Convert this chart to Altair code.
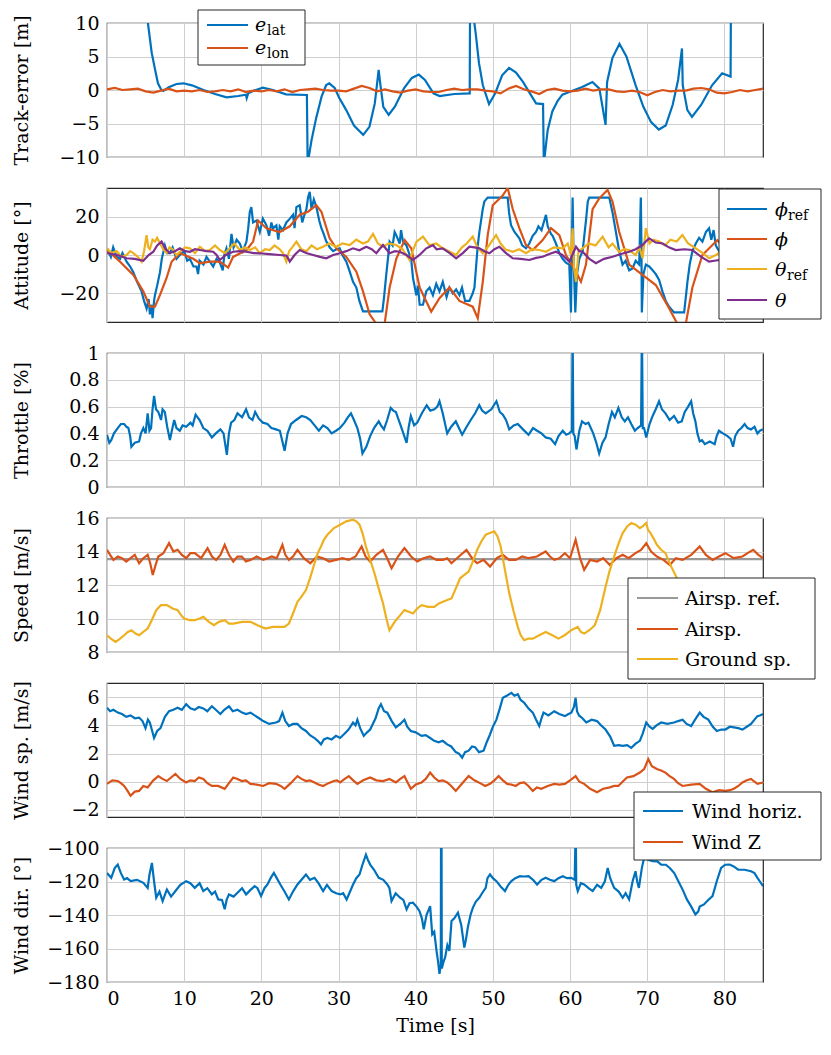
import altair as alt
import pandas as pd

FONT = "DejaVu Serif"
BLUE, ORANGE, YELLOW, PURPLE, GRAY = "#0072BD", "#D95319", "#EDB120", "#7E2F8E", "#999999"
W, H = 656, 134
FS = 19

# ---------------- data (t [s], value) ----------------
elat = [(0, 45), (2, 30), (4, 18), (5.3, 10), (5.8, 5.5), (6.2, 3.2), (6.6, 1.0), (7.0, 0.1), (7.3, -0.15), (8.0, 0.4),
        (9.0, 0.9), (9.9, 1.0), (11.0, 0.7), (12.5, 0.0), (14.0, -0.6), (15.5, -1.1), (17.0, -0.9), (18.0, -0.7), (18.1, -1.2), (18.3, -0.5),
        (19.0, -0.1), (20.2, 0.35), (21.5, 0.0), (23.2, -0.65), (25.9, -0.75), (26.0, -11), (26.5, -7.5), (27.1, -4.2), (27.8, -1.0), (28.4, 0.74),
        (28.8, 1.0), (29.5, 0.3), (30.1, -1.2), (31.0, -3.0), (32.0, -5.3), (33.2, -6.7), (34.0, -5.5), (34.7, -2.0), (35.2, 3.0), (35.4, 1.0),
        (35.8, -2.5), (36.5, -3.7), (37.3, -2.5), (38.5, 0.3), (39.5, 1.8), (40.4, 2.3), (41.2, 1.5), (42.3, -0.5), (43.1, -0.9), (45.0, -0.6),
        (47.0, -0.5), (47.05, 15), (47.5, 12), (47.6, 10), (47.8, 8.2), (48.2, 4.0), (48.7, 0.7), (49.5, -2.1), (50.3, -0.5), (51.2, 2.2),
        (52.1, 3.3), (53.0, 2.6), (53.9, 1.2), (54.8, -0.5), (55.6, -2.0), (56.5, -2.1), (56.6, -11), (57.1, -6), (57.7, -3.2), (58.4, -1.6),
        (59.0, -0.7), (60.3, -0.1), (61.5, 0.4), (62.9, 1.2), (63.8, 0.2), (64.6, -5.2), (64.8, 1.2), (65.5, 4.8), (66.4, 6.9), (67.3, 5.0),
        (68.5, 0.7), (69.5, -2.5), (70.5, -4.8), (71.5, -5.9), (72.4, -5.3), (73.3, -2.2), (74.0, 1.5), (74.5, 6.2), (74.6, 0.7), (75.2, -3.0),
        (75.8, -4.0), (77.0, -2.2), (78.4, 0.7), (79.7, 2.5), (80.8, 2.0), (80.85, 15), (85, 15)]

elon_t = list(range(86))
elon_v = [0.1, 0.3, 0.0, 0.1, 0.2, -0.2, -0.4, -0.1, 0.2, -0.2,
          -0.1, -0.2, 0.0, -0.3, -0.2, 0.0, -0.2, 0.1, -0.3, -0.1,
          -0.2, 0.0, -0.2, 0.1, -0.3, 0.0, 0.1, 0.2, 0.0, -0.1,
          -0.1, -0.2, 0.2, 0.6, 0.3, -0.2, 0.1, -0.2, -0.4, -0.1,
          0.1, -0.2, -0.3, -0.3, 0.0, 0.2, 0.0, 0.1, 0.1, -0.1,
          -0.2, -0.5, 0.2, 0.6, 0.1, -0.2, -0.6, 0.0, 0.2, -0.1,
          -0.2, -0.1, 0.2, -0.1, 0.1, 0.1, -0.2, -0.3, -0.1, -0.3,
          -0.8, -0.3, 0.0, -0.2, -0.1, -0.1, 0.2, 0.3, 0.1, -0.4,
          -0.5, -0.3, 0.0, -0.2, 0.0, 0.2]

phi_ref = [(0, 3.5), (0.5, -1), (0.8, 4), (1.25, -1), (1.7, -2), (2.0, 1), (2.54, -3.5), (3.0, -6), (3.41, -9), (3.9, -14),
           (4.48, -19), (4.8, -24), (5.13, -28), (5.4, -23), (5.56, -31), (5.78, -26), (5.9, -33), (6.1, -24), (6.21, -21), (6.5, -16),
           (6.86, -9), (7.1, -2), (7.5, 5), (7.8, 1), (8.15, 1), (8.5, 4), (9.0, -2), (9.44, 0), (10.0, 2), (10.4, -3),
           (10.74, -2), (11.2, -6), (11.6, -6), (11.8, -10), (12.0, -3), (12.5, -5), (12.89, -1), (13.32, -3.5), (13.76, -6), (14.2, -2),
           (14.62, -4), (15.0, -8), (15.2, 0), (15.48, 3.5), (15.8, -2), (16.13, 11), (16.4, 4), (16.8, 8), (17.21, 6), (17.6, 2),
           (18.07, 7), (18.3, 14), (18.5, 22.5), (18.7, 25), (18.93, 17), (19.36, 18), (19.8, 12), (20.2, 19), (20.66, 15.5), (21.0, 10),
           (21.3, 17), (21.52, 14), (21.95, 15.5), (22.2, 8), (22.38, 15), (22.8, 13), (23.24, 17), (23.7, 19), (24.11, 21), (24.3, 14),
           (24.54, 25), (24.97, 26), (25.3, 17), (25.5, 20), (25.84, 24), (26.05, 30), (26.27, 33), (26.5, 24), (26.8, 29), (27.13, 25),
           (27.5, 18), (27.78, 14), (27.99, 12), (28.42, 7), (28.85, 4), (29.3, 2), (29.72, 3), (30.15, 3.5), (30.5, 0), (31.01, -3.5),
           (31.4, -8), (31.88, -14), (32.31, -17), (32.7, -24), (33.17, -29.5), (34.47, -29.5), (35.68, -29.5), (35.9, -22), (36.19, -10), (36.4, -2),
           (36.62, 7), (37.0, 5), (37.27, 12), (37.48, 10.4), (37.92, 6), (38.1, 13), (38.35, 7), (38.8, 5), (39.21, 0), (39.43, -3),
           (39.65, -12), (40.08, -21), (40.3, -16), (40.51, -26), (40.94, -26), (41.37, -19), (41.8, -17), (42.23, -21), (42.66, -15), (43.08, -19),
           (43.51, -14), (44.0, -22), (44.37, -17), (44.8, -20), (45.24, -18), (45.67, -21), (46.0, -17), (46.4, -24), (46.96, -24), (47.39, -20),
           (47.61, -17), (48.04, 5), (48.25, 12), (48.69, 24), (48.9, 28), (49.33, 30), (51.92, 30), (52.1, 22), (52.35, 15.6), (52.8, 12),
           (53.43, 8.7), (53.8, 5), (54.29, 3.5), (54.72, 6), (55.16, 10), (55.59, 12), (55.9, 15), (56.3, 13), (56.88, 21), (57.1, 15),
           (57.53, 11), (57.74, 10), (58.17, 6), (58.61, 1), (59.04, -2), (59.47, -4), (59.9, -5), (60.12, -30), (60.2, -5), (60.33, 30),
           (60.45, 0), (60.68, -30), (60.9, -10), (61.2, -2), (61.63, 2), (62.06, 18), (62.3, 28), (62.49, 30), (65.08, 30), (65.51, 22),
           (65.94, 12), (66.37, 2), (66.8, -5), (67.2, -3), (67.66, -8), (68.09, -7), (68.5, -3), (68.96, -5), (69.17, 30), (69.25, 5),
           (69.3, -30), (69.5, -10), (69.82, -5), (70.25, -6), (70.7, -8), (71.11, -10), (71.54, -13), (71.97, -19), (72.4, -24), (72.83, -27),
           (73.48, -30), (74.78, -30), (75.0, -22), (75.21, -14), (75.5, -5), (75.85, 2), (76.29, 6), (76.72, 9), (77.15, 7), (77.6, 12),
           (78.01, 14), (78.3, 8), (78.6, 13), (78.88, 5), (79.31, 2), (79.74, 2), (80.5, 4), (82, 6), (83.5, 3), (85, 2)]

phi = [(0, 2.6), (1.69, -3.5), (3.41, -10.4), (4.7, -19), (5.56, -27), (6.21, -27), (6.86, -21), (7.72, -12), (8.37, -3.5), (9.44, 1),
       (11.17, -2), (12.03, -4.3), (13.32, -3.5), (14.62, -3.5), (15.7, -6.6), (16.34, -1), (18.07, 2.6), (18.93, 7), (19.58, 18), (20.66, 14),
       (22.38, 12), (23.68, 15), (24.97, 21), (26.05, 22.6), (27.13, 26), (27.78, 22.6), (28.85, 8.7), (29.72, 3.5), (31.01, -1), (32.31, -8.7),
       (33.17, -19), (34.03, -31), (34.9, -36), (35.97, -36), (36.62, -17), (37.48, -2), (38.57, 7.8), (39.43, 3.5), (40.51, -17), (42.01, -29.6),
       (43.08, -22.6), (44.37, -17), (45.67, -24), (47.39, -27), (48.04, -33), (48.69, -14), (49.33, 10.4), (49.98, 26), (51.27, 31), (51.92, 35),
       (52.57, 24), (53.43, 14), (54.29, 5.2), (55.16, 2.6), (56.45, 7.8), (57.53, 14), (58.61, 10.4), (59.47, 0), (60.77, -8.7), (61.41, -14),
       (62.06, -5), (62.92, 24), (63.78, 29.6), (64.86, 34), (65.51, 27.8), (66.37, 12), (67.66, -5), (69.39, -10.4), (71.11, -15.7), (72.83, -27.8),
       (73.91, -36), (74.99, -36), (75.85, -17), (77.15, 0), (78.45, 5.2), (79.09, 7.8), (79.74, 4.3), (81, 3), (83, 2), (85, 1)]

theta_ref = [(0, 3.5), (0.6, 1), (1.25, 2), (1.9, -1), (2.54, 0), (3.0, 2), (3.41, 1), (4.0, -1), (4.48, -3.5), (4.8, 2),
             (5.13, 10.4), (5.35, 4), (5.56, 3), (5.9, 8), (6.21, 7), (6.5, 9), (6.86, 6), (7.3, 3), (7.72, 1), (8.1, 4),
             (8.5, 3), (9.0, 0), (9.44, 1.7), (10.1, 4), (10.74, 3.5), (11.4, 1), (12.03, 4.3), (12.7, 2), (13.32, 2.6), (14.0, 5),
             (14.62, 2.6), (15.3, 1), (15.91, 3.5), (16.5, 6), (17.21, 2.6), (17.9, 4), (18.5, 2.6), (19.2, 4), (19.79, 1), (20.5, 3),
             (21.1, 2.6), (21.7, 5), (22.38, 3), (22.8, 1), (23.24, -3.5), (23.6, 2), (24.0, 4), (24.54, 7), (25.2, 3), (25.84, 2),
             (26.5, 5), (27.2, 3), (27.99, 4.3), (28.8, 6), (29.72, 4.3), (30.5, 6), (31.45, 5.2), (32.3, 8), (33.17, 6), (33.8, 7),
             (34.47, 11), (35.1, 6), (35.76, 4.3), (36.5, 6), (37.48, 5.2), (38.3, 3), (39.21, -2.6), (39.6, 2), (40.1, 7), (40.94, 9.6),
             (41.8, 5), (42.66, 6), (43.51, 3.5), (44.3, 2), (45.24, 0), (46.0, 4), (46.6, 6), (47.39, 9.6), (48.0, 4), (48.69, 0.9),
             (49.5, 5), (50.41, 10.4), (51.0, 6), (51.6, 3), (52.57, 1.7), (53.4, 3), (54.29, 0.9), (55.1, 3), (56.02, 2.6), (56.88, 1.7),
             (57.9, 4), (59.04, 3.5), (59.7, 6), (60.1, 0), (60.33, 14), (60.5, -6), (60.77, -14), (61.1, 2), (61.63, 3.5), (62.4, 6),
             (63.3, 5), (64.22, 9.6), (65.0, 4), (65.5, 6), (66.37, 1.7), (67.0, 3), (67.66, 2.6), (68.5, 0), (69.0, 4), (69.39, -1.7),
             (69.6, 5), (69.82, 14), (70.3, 6), (70.8, 8), (71.54, 7), (72.3, 5), (73.0, 8), (73.8, 7), (74.56, 10.4), (75.3, 6),
             (76.29, 3.5), (77.2, 1), (78.01, -1.7), (78.9, 0), (79.74, 2.6), (81, 2), (83, 3), (85, 2)]

theta = [(0, 1), (1.3, 0), (2.54, -1.7), (3.6, -2), (4.7, -3), (5.4, 0), (6.0, 1.7), (6.5, 5), (7.07, 7), (7.6, 3),
         (8.15, 1), (8.8, 2), (9.44, 3.5), (10.1, 2), (10.74, 1.7), (11.4, 3), (12.03, 2.6), (12.9, 2), (13.76, 1.7), (14.2, 0),
         (14.62, -2.6), (15.4, 0), (16.34, 1.7), (17.2, 2), (18.07, 1.7), (19.0, 1), (19.79, 0.9), (21.0, 0.5), (22.38, 0), (23.24, -0.3),
         (23.5, -2), (23.68, -3.5), (24.3, 0), (24.97, 2.6), (25.8, 1), (26.7, 0), (27.6, -1), (28.42, -1.7), (29.3, 0), (30.15, 0.9),
         (31.0, 2), (31.88, 3.5), (32.7, 2.5), (33.6, 4.3), (34.3, 3), (34.9, 0.9), (35.3, 3), (35.76, 5.2), (36.2, 3), (36.62, 0.9),
         (37.3, 2), (37.92, 1.7), (38.8, 0), (39.65, -2.6), (40.5, 0), (41.37, 3.5), (41.8, 4.3), (42.23, 5.2), (42.7, 3), (43.5, 3.5),
         (44.4, 1), (45.24, -1.7), (46.1, 1), (46.96, 4.3), (47.6, 4), (48.25, 3.5), (48.9, 2), (49.55, 0.9), (50.2, 3), (50.84, 4.3),
         (51.7, 1), (52.57, -1.7), (53.6, -2), (54.72, -2.6), (55.6, -1.5), (56.45, -0.9), (57.3, 0.5), (58.17, 1.7), (59.0, 0), (59.9, -3.5),
         (60.3, 0), (60.77, 4.3), (61.2, 2), (61.63, 1.7), (62.5, -2), (63.35, -4.3), (64.4, -2), (65.51, -0.9), (66.6, 0.5), (67.66, 1.7),
         (68.5, 3), (69.39, 5.2), (69.8, 7), (70.25, 8.7), (71.1, 6.5), (72.0, 6), (72.8, 4), (73.7, 2.6), (74.8, 3), (75.85, 2.6),
         (77.0, -1), (78.01, -3.5), (78.7, -3), (79.31, -2.6), (79.74, -0.9), (81, 1), (83, 0), (85, 1)]

throttle = [(0, 0.39), (0.3, 0.33), (0.55, 0.35), (0.9, 0.40), (1.39, 0.44), (1.8, 0.47), (2.22, 0.47), (2.5, 0.45), (2.77, 0.44), (3.0, 0.38),
            (3.16, 0.30), (3.6, 0.33), (4.16, 0.34), (4.4, 0.40), (4.71, 0.44), (5.0, 0.40), (5.27, 0.55), (5.5, 0.42), (5.71, 0.44), (5.9, 0.58),
            (6.1, 0.68), (6.35, 0.58), (6.65, 0.56), (7.0, 0.50), (7.2, 0.58), (7.49, 0.56), (7.8, 0.45), (8.15, 0.35), (8.4, 0.42), (8.71, 0.50),
            (9.0, 0.44), (9.43, 0.42), (9.8, 0.46), (10.26, 0.45), (10.81, 0.48), (11.1, 0.46), (11.48, 0.54), (12.0, 0.50), (12.48, 0.44), (13.0, 0.42),
            (13.59, 0.37), (14.1, 0.40), (14.69, 0.43), (15.1, 0.40), (15.53, 0.24), (15.8, 0.40), (16.08, 0.48), (16.5, 0.50), (16.91, 0.55), (17.5, 0.52),
            (18.02, 0.58), (18.4, 0.52), (18.85, 0.50), (19.2, 0.56), (19.68, 0.51), (20.2, 0.48), (20.79, 0.47), (21.3, 0.44), (21.9, 0.43), (22.4, 0.42),
            (23.01, 0.27), (23.4, 0.40), (23.84, 0.47), (24.5, 0.50), (25.23, 0.53), (25.8, 0.52), (26.34, 0.50), (26.9, 0.46), (27.45, 0.42), (28.0, 0.46),
            (28.56, 0.44), (29.1, 0.40), (29.67, 0.42), (30.2, 0.44), (30.77, 0.48), (31.2, 0.52), (31.61, 0.55), (32.0, 0.50), (32.44, 0.44), (32.8, 0.36),
            (33.1, 0.25), (33.6, 0.30), (34.1, 0.38), (34.6, 0.44), (35.21, 0.49), (35.5, 0.46), (35.88, 0.43), (36.3, 0.50), (36.76, 0.59), (37.1, 0.57),
            (37.43, 0.56), (38.1, 0.45), (38.82, 0.33), (39.1, 0.45), (39.37, 0.53), (39.8, 0.46), (40.2, 0.48), (40.8, 0.55), (41.42, 0.61), (41.9, 0.57),
            (42.42, 0.58), (42.8, 0.60), (43.08, 0.64), (43.5, 0.55), (44.08, 0.40), (44.6, 0.45), (45.19, 0.49), (45.6, 0.44), (46.02, 0.39), (46.6, 0.45),
            (47.13, 0.50), (47.7, 0.55), (48.24, 0.61), (48.6, 0.57), (49.07, 0.55), (49.8, 0.58), (50.46, 0.64), (50.9, 0.56), (51.29, 0.54), (51.7, 0.50),
            (52.12, 0.43), (52.7, 0.46), (53.23, 0.47), (53.9, 0.43), (54.62, 0.39), (55.2, 0.44), (55.73, 0.42), (56.3, 0.40), (56.84, 0.37), (57.5, 0.36),
            (58.06, 0.32), (58.5, 0.38), (59.05, 0.42), (59.5, 0.39), (59.89, 0.40), (60.25, 0.42), (60.33, 1.2), (60.42, 0.40), (60.6, 0.38), (60.83, 0.28),
            (61.2, 0.42), (61.55, 0.49), (62.0, 0.47), (62.38, 0.48), (63.0, 0.40), (63.4, 0.33), (63.77, 0.25), (64.2, 0.33), (64.6, 0.37), (65.0, 0.47),
            (65.43, 0.56), (65.8, 0.52), (66.26, 0.59), (66.7, 0.52), (67.09, 0.49), (67.5, 0.52), (67.93, 0.47), (68.4, 0.42), (68.76, 0.44), (69.2, 0.46),
            (69.31, 1.2), (69.42, 0.44), (69.59, 0.44), (69.87, 0.37), (70.3, 0.47), (70.7, 0.53), (71.1, 0.58), (71.53, 0.64), (71.9, 0.58), (72.36, 0.55),
            (72.9, 0.50), (73.47, 0.53), (74.0, 0.48), (74.47, 0.49), (74.86, 0.56), (75.3, 0.60), (75.69, 0.64), (75.95, 0.55), (76.24, 0.49), (76.5, 0.40),
            (76.8, 0.34), (77.1, 0.35), (77.46, 0.32), (78.1, 0.34), (78.74, 0.32), (79.0, 0.38), (79.29, 0.42), (79.8, 0.40), (80.4, 0.38), (80.8, 0.36),
            (81.12, 0.30), (81.4, 0.38), (81.79, 0.42), (82.2, 0.44), (82.62, 0.47), (83.0, 0.44), (83.45, 0.43), (83.9, 0.45), (84.28, 0.40), (84.6, 0.42),
            (85, 0.43)]

airsp_ref = [(0, 13.55), (85, 13.55)]

airsp = [(0, 14.1), (0.4, 13.8), (0.83, 13.5), (1.4, 13.7), (1.94, 13.6), (2.5, 13.4), (3.05, 13.6), (3.6, 13.8), (4.16, 13.3), (4.7, 13.6),
         (5.27, 13.8), (5.6, 13.3), (5.93, 12.6), (6.3, 13.2), (6.65, 13.7), (7.3, 13.9), (8.04, 14.5), (8.6, 14.0), (9.15, 14.1), (9.7, 13.8),
         (10.26, 13.6), (10.8, 13.9), (11.37, 13.9), (12.2, 13.6), (13.03, 14.2), (13.6, 13.7), (14.14, 13.5), (14.7, 13.8), (15.25, 14.4), (15.8, 13.8),
         (16.36, 13.4), (16.9, 13.7), (17.47, 13.7), (18.0, 13.4), (18.58, 13.5), (19.4, 13.7), (20.24, 13.5), (20.8, 13.6), (21.35, 13.7), (22.0, 13.6),
         (22.73, 14.4), (23.1, 13.8), (23.57, 13.5), (24.1, 13.7), (24.68, 14.1), (25.5, 13.6), (26.34, 13.3), (27.2, 13.7), (28.0, 13.6), (28.8, 13.4),
         (29.67, 13.5), (30.5, 13.6), (31.33, 13.5), (32.2, 13.7), (32.99, 14.3), (33.5, 13.7), (34.1, 13.4), (34.9, 13.8), (35.76, 14.1), (36.3, 13.6),
         (36.87, 13.0), (37.7, 13.7), (38.54, 14.2), (39.4, 13.7), (40.2, 13.4), (41.0, 13.6), (41.86, 13.7), (42.7, 13.5), (43.53, 13.5), (44.1, 13.6),
         (44.63, 13.3), (45.6, 13.7), (46.58, 14.1), (47.3, 13.6), (47.96, 13.3), (48.8, 13.5), (49.63, 13.1), (50.5, 13.6), (51.29, 13.8), (52.1, 13.5),
         (52.95, 13.5), (53.8, 13.7), (54.62, 13.6), (55.7, 13.7), (56.84, 14.0), (57.4, 13.7), (57.95, 13.5), (58.6, 13.6), (59.33, 13.9), (60.0, 13.6),
         (60.72, 14.7), (61.3, 13.6), (61.83, 12.9), (62.6, 13.5), (63.49, 13.4), (64.3, 13.6), (65.15, 13.2), (66.0, 13.6), (66.82, 13.8), (67.6, 13.6),
         (68.48, 13.9), (69.2, 14.1), (69.87, 14.5), (70.5, 14.0), (71.25, 13.7), (72.1, 13.5), (72.92, 13.2), (73.7, 13.6), (74.58, 13.5), (75.7, 13.8),
         (76.8, 14.3), (77.6, 13.8), (78.46, 13.5), (79.3, 13.7), (80.12, 13.9), (81.2, 13.6), (82.34, 13.7), (83.0, 13.9), (83.73, 14.1), (84.4, 13.8),
         (85, 13.6)]

ground = [(0, 9.0), (0.5, 8.8), (1.11, 8.6), (1.7, 8.8), (2.22, 9.0), (2.7, 9.2), (3.16, 9.3), (3.7, 9.1), (4.16, 9.0), (4.7, 9.2),
          (5.27, 9.4), (5.8, 9.9), (6.38, 10.5), (7.0, 10.8), (7.76, 10.8), (8.5, 10.6), (9.15, 10.5), (9.6, 10.2), (9.98, 10.0), (10.7, 9.9),
          (11.37, 9.9), (12.0, 10.0), (12.48, 10.1), (13.2, 9.8), (13.86, 9.6), (14.5, 9.8), (15.25, 9.9), (15.8, 9.7), (16.36, 9.7), (17.5, 9.8),
          (18.58, 9.8), (19.5, 9.6), (20.52, 9.4), (21.5, 9.5), (22.46, 9.5), (23.0, 9.5), (23.57, 9.7), (24.1, 10.3), (24.68, 11.0), (25.2, 11.3),
          (25.78, 11.7), (26.3, 12.4), (26.89, 13.3), (27.3, 13.9), (27.73, 14.3), (28.1, 14.7), (28.56, 15.0), (29.4, 15.4), (30.22, 15.6), (31.0, 15.8),
          (31.88, 15.9), (32.3, 15.8), (32.72, 15.6), (33.1, 15.1), (33.55, 14.3), (34.1, 13.5), (34.66, 12.7), (35.2, 11.8), (35.77, 10.9), (36.2, 10.0),
          (36.6, 9.3), (37.0, 9.6), (37.43, 9.9), (38.0, 10.2), (38.54, 10.5), (39.1, 10.4), (39.65, 10.3), (40.2, 10.6), (40.76, 10.8), (41.6, 10.7),
          (42.42, 10.7), (43.0, 10.9), (43.53, 11.0), (44.1, 11.1), (44.64, 11.2), (45.2, 11.8), (45.75, 12.4), (46.3, 12.6), (46.86, 12.8), (47.4, 13.4),
          (47.96, 14.1), (48.5, 14.6), (49.07, 15.0), (49.6, 15.1), (50.18, 15.2), (50.6, 14.9), (51.01, 14.3), (51.6, 12.8), (52.12, 11.5), (52.7, 10.4),
          (53.23, 9.5), (53.6, 9.0), (54.06, 8.7), (54.6, 8.8), (55.17, 8.8), (56.0, 9.0), (56.84, 9.2), (57.7, 9.0), (58.5, 8.8), (59.3, 9.0),
          (60.16, 9.3), (60.99, 9.5), (61.4, 9.2), (61.83, 9.1), (62.5, 9.3), (63.21, 9.6), (63.9, 10.5), (64.6, 11.9), (65.1, 12.8), (65.71, 13.7),
          (66.3, 14.5), (66.82, 15.1), (67.4, 15.5), (67.93, 15.7), (68.5, 15.6), (69.04, 15.4), (69.4, 15.5), (69.87, 15.7), (70.1, 15.3), (70.42, 15.1),
          (70.8, 14.8), (71.25, 14.4), (71.8, 14.1), (72.36, 13.9), (73.0, 13.2), (73.75, 12.5), (74.5, 11.8), (75.5, 11.2), (77, 10.6), (79, 10.2),
          (81, 10.0), (83, 9.9), (85, 9.9)]

wind_h = [(0, 5.25), (0.4, 5.0), (0.83, 5.1), (1.4, 4.9), (1.94, 4.8), (2.5, 4.6), (3.05, 4.7), (3.6, 4.5), (4.16, 4.55), (4.6, 4.3),
          (4.99, 3.8), (5.3, 4.4), (5.55, 4.2), (5.8, 3.7), (6.1, 3.1), (6.5, 3.6), (6.93, 3.8), (7.5, 4.6), (8.04, 5.0), (8.6, 5.1),
          (9.15, 5.25), (9.7, 5.1), (10.26, 5.5), (10.8, 5.2), (11.37, 5.1), (11.9, 5.3), (12.48, 5.2), (13.0, 5.0), (13.59, 5.35), (14.1, 5.1),
          (14.69, 4.8), (15.2, 5.1), (15.8, 5.35), (16.3, 5.0), (16.91, 5.1), (17.5, 4.9), (18.02, 4.8), (18.6, 4.9), (19.13, 4.7), (19.7, 4.5),
          (20.24, 4.3), (21.0, 4.1), (21.9, 4.2), (22.3, 4.3), (22.73, 4.9), (23.1, 4.3), (23.57, 3.95), (24.1, 4.1), (24.68, 4.1), (25.2, 3.8),
          (25.78, 3.6), (26.3, 3.3), (26.89, 3.1), (27.3, 2.9), (27.73, 2.65), (28.1, 3.0), (28.56, 3.1), (29.1, 3.0), (29.67, 3.25), (30.2, 3.1),
          (30.77, 3.4), (31.3, 3.7), (31.88, 4.2), (32.2, 4.0), (32.44, 4.4), (32.8, 3.8), (33.27, 3.25), (33.7, 3.5), (34.1, 3.7), (34.8, 4.5),
          (35.2, 5.2), (35.49, 5.5), (35.9, 5.0), (36.32, 4.9), (36.9, 4.3), (37.43, 3.85), (38.0, 4.1), (38.54, 4.4), (38.9, 3.9), (39.37, 3.6),
          (40.0, 3.5), (40.76, 3.25), (41.3, 3.3), (41.87, 3.1), (42.4, 2.9), (42.97, 2.8), (43.5, 2.9), (44.08, 2.65), (44.6, 2.5), (45.19, 2.1),
          (45.6, 2.0), (46.02, 1.7), (46.4, 2.1), (46.86, 2.2), (47.3, 2.5), (47.69, 2.45), (48.2, 2.1), (48.8, 2.2), (49.2, 2.8), (49.63, 3.35),
          (50.0, 3.9), (50.46, 4.4), (50.9, 5.2), (51.29, 5.95), (51.8, 6.1), (52.4, 6.3), (52.8, 6.1), (53.23, 6.2), (53.6, 5.8), (54.06, 5.6),
          (54.6, 5.2), (55.17, 4.9), (55.6, 4.4), (56.01, 3.95), (56.3, 4.5), (56.56, 4.9), (57.2, 4.7), (57.95, 5.0), (58.6, 4.8), (59.33, 4.65),
          (59.8, 4.8), (60.16, 4.9), (60.5, 5.3), (60.72, 5.95), (60.9, 5.0), (61.16, 4.7), (61.6, 4.5), (62.1, 4.2), (62.8, 4.4), (63.49, 4.3),
          (64.0, 4.0), (64.6, 3.7), (65.2, 3.2), (65.71, 2.55), (66.3, 2.6), (66.82, 2.55), (67.4, 2.6), (67.93, 2.4), (68.5, 2.7), (69.04, 2.9),
          (69.4, 3.4), (69.87, 4.2), (70.3, 3.9), (70.7, 3.75), (71.2, 4.0), (71.81, 4.2), (72.6, 4.1), (73.47, 4.2), (74.0, 4.3), (74.58, 4.4),
          (75.1, 4.1), (75.69, 3.95), (76.2, 4.4), (76.8, 4.9), (77.3, 4.6), (77.91, 4.4), (78.5, 3.9), (79.02, 3.6), (79.6, 3.7), (80.12, 3.7),
          (80.7, 3.9), (81.23, 3.85), (81.8, 3.8), (82.34, 3.7), (82.9, 3.9), (83.45, 4.1), (83.9, 4.4), (84.28, 4.65), (84.6, 4.7), (85, 4.8)]

wind_z = [(0, -0.15), (0.7, 0.1), (1.39, 0.05), (1.8, -0.1), (2.22, -0.3), (2.6, -0.6), (3.05, -1.0), (3.6, -0.7), (4.16, -0.65), (4.7, -0.3),
          (5.27, -0.4), (6.0, 0.1), (6.65, 0.4), (7.2, 0.2), (7.76, 0.05), (8.3, 0.3), (8.87, 0.55), (9.5, 0.2), (10.26, -0.05), (10.8, 0.1),
          (11.37, 0.05), (11.9, 0.3), (12.48, 0.2), (13.0, -0.1), (13.59, -0.3), (14.4, -0.3), (15.25, -0.5), (15.8, -0.1), (16.36, 0.3), (16.9, 0.2),
          (17.47, 0.05), (18.0, 0.1), (18.58, -0.15), (19.4, -0.2), (20.24, -0.3), (21.0, -0.1), (21.9, -0.15), (22.5, -0.3), (23.01, -0.5), (23.8, -0.1),
          (24.68, 0.4), (25.2, 0.2), (25.78, 0.05), (26.3, 0.1), (26.89, -0.05), (27.4, -0.2), (28.0, -0.3), (28.7, -0.1), (29.39, 0.05), (29.8, 0.1),
          (30.22, -0.05), (30.8, 0.2), (31.33, 0.4), (31.9, 0.1), (32.44, -0.15), (33.2, 0.1), (34.1, 0.3), (34.9, 0.1), (35.77, 0.05), (36.6, 0.2),
          (37.43, -0.05), (38.0, 0.2), (38.54, 0.4), (38.9, 0.0), (39.37, -0.5), (40.0, -0.2), (40.76, -0.05), (41.3, 0.2), (41.87, 0.65), (42.4, 0.3),
          (42.97, 0.05), (43.5, 0.1), (44.08, -0.05), (44.6, -0.3), (45.19, -0.65), (45.9, -0.2), (46.86, 0.4), (47.6, 0.1), (48.52, -0.15), (49.0, -0.3),
          (49.63, -0.15), (50.2, 0.1), (50.74, 0.4), (51.3, 0.1), (51.85, -0.15), (52.4, -0.2), (52.95, -0.3), (53.5, -0.1), (54.06, -0.05), (54.6, -0.3),
          (55.17, -0.65), (55.7, -0.4), (56.28, -0.5), (57.1, -0.3), (57.95, -0.15), (58.6, -0.2), (59.33, -0.15), (60.0, 0.1), (60.72, 0.4), (61.2, 0.0),
          (61.83, -0.15), (62.6, -0.5), (63.49, -0.75), (64.3, -0.5), (65.15, -0.4), (65.7, -0.3), (66.26, -0.3), (66.8, 0.0), (67.37, 0.3), (68.2, 0.4),
          (69.04, 0.65), (69.6, 0.9), (70.14, 1.6), (70.6, 1.1), (71.25, 0.9), (71.8, 0.8), (72.36, 0.65), (72.9, 0.4), (73.47, 0.2), (74.0, -0.1),
          (74.58, -0.3), (75.7, -0.2), (76.8, -0.15), (77.6, -0.5), (78.46, -0.75), (79.3, -0.6), (80.12, -0.65), (80.7, -0.6), (81.23, -0.5), (81.8, -0.3),
          (82.34, -0.05), (82.9, 0.1), (83.45, 0.2), (83.9, 0.0), (84.28, -0.15), (85, -0.05)]

wind_dir = [(0, -114.9), (0.55, -117.8), (1.0, -112), (1.39, -109.9), (1.8, -115), (2.22, -118.8), (2.6, -118), (3.05, -119.8), (3.9, -119), (4.71, -120.8),
            (5.27, -123.8), (5.5, -116), (5.82, -108.9), (6.1, -120), (6.38, -129.7), (6.8, -126), (7.21, -131.7), (7.5, -128), (7.76, -124.8), (8.3, -129),
            (8.87, -125.7), (9.5, -122), (10.26, -119.8), (10.8, -121), (11.37, -123.8), (12.0, -121), (12.48, -125.7), (13.0, -124), (13.59, -127.7), (14.0, -126),
            (14.42, -130.7), (14.9, -131), (15.25, -136.6), (15.5, -131), (15.8, -127.7), (16.4, -129), (16.91, -126.7), (17.5, -124), (18.02, -127.7), (18.6, -125),
            (19.13, -122.8), (19.5, -124), (19.96, -128.7), (20.4, -124), (20.79, -121.8), (21.2, -118), (21.62, -114.9), (22.0, -118), (22.46, -121.8), (23.0, -126),
            (23.57, -130.7), (24.1, -126), (24.68, -121.8), (25.2, -119), (25.78, -115.8), (26.3, -119), (26.89, -117.8), (27.4, -121), (28.0, -125.7), (28.5, -122),
            (29.11, -125.7), (29.7, -127), (30.22, -127.7), (30.6, -127), (31.05, -130.7), (31.5, -126), (31.88, -121.8), (32.3, -118), (32.72, -115.8), (33.1, -110),
            (33.55, -104), (33.8, -107), (34.1, -109.9), (34.6, -113), (35.21, -117.8), (35.8, -119), (36.32, -121.8), (36.6, -124), (36.87, -131.7), (37.4, -127),
            (37.98, -129.7), (38.4, -131), (38.82, -136.6), (39.2, -133), (39.65, -132.7), (40.1, -135), (40.48, -137.6), (40.8, -142), (41.04, -148.5), (41.4, -140),
            (41.87, -134.7), (42.14, -151.5), (42.4, -150), (42.7, -161.4), (42.9, -168), (43.08, -175.2), (43.25, -170), (43.28, -98), (43.35, -98), (43.38, -172),
            (43.6, -168), (43.81, -165.3), (44.1, -158), (44.36, -161.4), (44.64, -143.6), (45.0, -142), (45.47, -138.6), (45.9, -146), (46.3, -159.4), (46.5, -155),
            (46.75, -147.5), (47.1, -140), (47.41, -135.6), (47.8, -132), (48.24, -129.7), (48.6, -127), (49.07, -123.8), (49.3, -118), (49.63, -115.8), (50.0, -118),
            (50.46, -119.8), (51.0, -123), (51.57, -125.7), (52.0, -122), (52.4, -119.8), (52.9, -118), (53.51, -116.8), (54.0, -117), (54.62, -116.8), (55.2, -119),
            (55.73, -121.8), (56.3, -119), (56.84, -117.8), (57.4, -119), (57.95, -119.8), (58.5, -118), (59.06, -116.8), (59.6, -118), (60.16, -117.8), (60.6, -119),
            (60.68, -99), (60.76, -99), (60.8, -122), (61.0, -125.7), (61.4, -121), (61.83, -121.8), (62.4, -124), (62.93, -125.7), (63.5, -122), (64.04, -123.8),
            (64.5, -120), (64.88, -111.9), (65.2, -118), (65.71, -123.8), (66.3, -126), (66.82, -129.7), (67.2, -127), (67.65, -130.7), (68.1, -120), (68.48, -113.9),
            (68.7, -120), (68.92, -123.8), (69.3, -112), (69.59, -105.9), (70.1, -107), (70.7, -107.9), (71.3, -108), (71.81, -109.9), (72.4, -110), (72.92, -111.9),
            (73.5, -115), (74.03, -119.8), (74.6, -125), (75.14, -130.7), (75.7, -135), (76.24, -139.6), (76.6, -138), (76.8, -135), (77.35, -133.7), (77.9, -131),
            (78.46, -128.7), (79.0, -120), (79.57, -111.9), (80.1, -110), (80.68, -109.9), (81.2, -111), (81.79, -112.9), (82.6, -113), (83.45, -113.9), (83.9, -115),
            (84.28, -117.8), (84.6, -120), (85, -122.8)]

x_ticks = [0, 10, 20, 30, 40, 50, 60, 70, 80]

# ---------------- helpers ----------------
ONE = pd.DataFrame({"k": [0]})


def line(pairs, color, ydom, yaxis, xaxis, sw=2.2):
    df = pd.DataFrame(pairs, columns=["t", "v"])
    return alt.Chart(df).mark_line(color=color, strokeWidth=sw, clip=True).encode(
        x=alt.X("t:Q", scale=alt.Scale(domain=[0, 85], nice=False, zero=False), axis=xaxis),
        y=alt.Y("v:Q", scale=alt.Scale(domain=ydom, nice=False, zero=False), axis=yaxis),
    )


def box(x0, x1, y0, y1):
    return alt.Chart(ONE).mark_rect(fill="white", stroke="#262626", strokeWidth=1).encode(
        x=alt.value(x0), x2=alt.value(x1), y=alt.value(y0), y2=alt.value(y1))


def sample(x0, x1, y, color):
    return alt.Chart(ONE).mark_rule(color=color, strokeWidth=2).encode(
        x=alt.value(x0), x2=alt.value(x1), y=alt.value(y))


def label(x, y, text, size=FS, italic=False):
    return alt.Chart(ONE).mark_text(align="left", baseline="alphabetic", font=FONT, fontSize=size,
                                    fontStyle="italic" if italic else "normal", color="black").encode(
        x=alt.value(x), y=alt.value(y), text=alt.value(text))


def xaxis(last):
    if last:
        return alt.Axis(values=x_ticks, title="Time [s]", labels=True, labelPadding=7, titlePadding=8)
    return alt.Axis(values=x_ticks, title=None, labels=False)


def yaxis(vals, title, expr=""):
    kw = dict(values=vals, title=title, titleX=-76, titleY=H / 2, labelPadding=8)
    if expr:
        kw["labelExpr"] = expr
    return alt.Axis(**kw)


# ---------------- panels ----------------
# 1: track error
ya = yaxis([-10, -5, 0, 5, 10], "Track-error [m]")
xa = xaxis(False)
d1 = [-10, 10]
p1 = alt.layer(
    line(elat, BLUE, d1, ya, xa),
    line(list(zip(elon_t, elon_v)), ORANGE, d1, ya, xa),
    box(91, 198, -13, 42),
    sample(100, 141, 2, BLUE), label(148, 8, "e", italic=True), label(160, 12, "lat", size=14),
    sample(100, 141, 25, ORANGE), label(148, 31, "e", italic=True), label(160, 35, "lon", size=14),
).properties(width=W, height=H)

# 2: attitude
ya = yaxis([-20, 0, 20], "Attitude [°]")
d2 = [-35, 35]
p2 = alt.layer(
    line(phi_ref, BLUE, d2, ya, xa),
    line(phi, ORANGE, d2, ya, xa),
    line(theta_ref, YELLOW, d2, ya, xa),
    line(theta, PURPLE, d2, ya, xa),
    box(612, 714, 1, 131),
    sample(620, 660, 21, BLUE), label(668, 28, "ϕ", italic=True), label(681, 32, "ref", size=14),
    sample(620, 660, 51, ORANGE), label(668, 58, "ϕ", italic=True),
    sample(620, 660, 81, YELLOW), label(668, 88, "θ", italic=True), label(680, 92, "ref", size=14),
    sample(620, 660, 112, PURPLE), label(668, 119, "θ", italic=True),
).properties(width=W, height=H)

# 3: throttle
ya = yaxis([0, 0.2, 0.4, 0.6, 0.8, 1], "Throttle [%]",
           expr="datum.value >= 0.99 ? '1' : (datum.value <= 0.01 ? '0' : format(datum.value, '.1f'))")
p3 = alt.layer(
    line(throttle, BLUE, [0, 1], ya, xa),
).properties(width=W, height=H)

# 4: speed
ya = yaxis([8, 10, 12, 14, 16], "Speed [m/s]")
d4 = [8, 16]
p4 = alt.layer(
    line(airsp_ref, GRAY, d4, ya, xa),
    line(airsp, ORANGE, d4, ya, xa),
    line(ground, YELLOW, d4, ya, xa),
    box(521, 708, 60, 161),
    sample(530, 571, 80, GRAY), label(578, 87, "Airsp. ref."),
    sample(530, 571, 111, ORANGE), label(578, 118, "Airsp."),
    sample(530, 571, 141, YELLOW), label(578, 148, "Ground sp."),
).properties(width=W, height=H)

# 5: wind speed
ya = yaxis([-2, 0, 2, 4, 6], "Wind sp. [m/s]")
d5 = [-2.5, 7]
p5 = alt.layer(
    line(wind_h, BLUE, d5, ya, xa),
    line(wind_z, ORANGE, d5, ya, xa),
).properties(width=W, height=H)

# 6: wind direction (also carries the wind legend, drawn on top)
ya = yaxis([-180, -160, -140, -120, -100], "Wind dir. [°]")
xa6 = xaxis(True)
d6 = [-180, -100]
p6 = alt.layer(
    line(wind_dir, BLUE, d6, ya, xa6),
    box(527, 714, -56, 12),
    sample(536, 576, -37, BLUE), label(585, -30, "Wind horiz."),
    sample(536, 576, -6, ORANGE), label(585, 1, "Wind Z"),
).properties(width=W, height=H)

chart = alt.vconcat(p1, p2, p3, p4, p5, p6, spacing=31, bounds="flush").properties(
    padding={"left": 3, "top": 0, "right": 0, "bottom": 0}
).configure_view(
    stroke="#262626", strokeWidth=1.2
).configure_axis(
    labelFont=FONT, labelFontSize=FS, labelColor="black",
    titleFont=FONT, titleFontSize=FS, titleFontWeight="normal", titleColor="black",
    grid=True, gridColor="#cfcfcf", gridWidth=1, ticks=False, domain=False,
)

chart.save("out.html", embed_options={"renderer": "svg", "actions": False})
